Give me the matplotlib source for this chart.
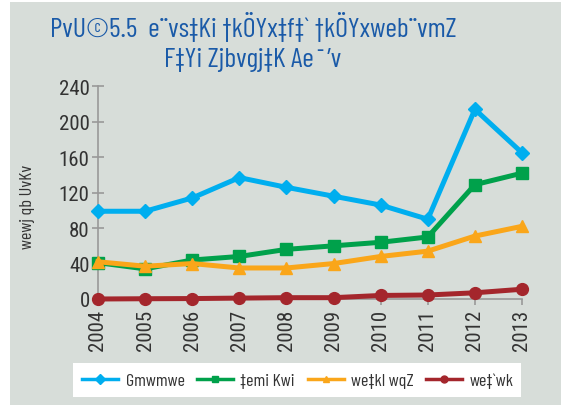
import matplotlib
matplotlib.use("Agg")
import matplotlib.pyplot as plt
from matplotlib.patches import Rectangle

plt.rcParams['font.family'] = ['Roboto Condensed', 'DejaVu Sans']
narrow = ['Barlow Condensed', 'Roboto Condensed', 'DejaVu Sans']

years = [2004, 2005, 2006, 2007, 2008, 2009, 2010, 2011, 2012, 2013]
s_blue = [99, 99, 114, 137, 126, 116, 106, 90, 214, 165]
s_green = [41, 34, 44, 48, 56, 60, 64, 70, 129, 142]
s_orange = [42, 37, 40, 35, 35, 40, 48, 54, 71, 82]
s_red = [0, 0.3, 0.5, 1, 1.5, 1.5, 4, 4.5, 7, 11]
series_names = ["Gmwmwe", "‡emi Kwi", "we‡kl wqZ", "we‡`wk"]
title_text = "PvU©5.5  e¨vs‡Ki †kÖYx‡f‡` †kÖYxweb¨vmZ\nF‡Yi Zjbvgj‡K Ae¯’v"
ylabel_text = "wewj qb UvKv"
yticks = [0, 40, 80, 120, 160, 200, 240]

bg = "#d7ddd9"
fig = plt.figure(figsize=(5.61, 4.06), dpi=100)
fig.patch.set_facecolor("white")
fig.add_artist(Rectangle((10/561, 0), 1 - 10/561, 1 - 3/406, transform=fig.transFigure,
                         facecolor=bg, edgecolor="none", zorder=0))
# legend box
fig.add_artist(Rectangle((73/561, 1 - 398/406), (521-73)/561, 34/406, transform=fig.transFigure,
                         facecolor="white", edgecolor="none", zorder=1))

ax = fig.add_axes([98/561, 1 - 300/406, (522-98)/561, (300-87.3)/406])
ax.set_facecolor("none")

styles = [
    (s_blue, "#00aeef", "D", 7),
    (s_green, "#00a14b", "s", 8.5),
    (s_orange, "#faa61a", "^", 8.5),
    (s_red, "#a4262c", "o", 8.5),
]
for (vals, col, mk, ms), name in zip(styles, series_names):
    ax.plot(years, vals, color=col, lw=3.6, marker=mk, ms=ms, clip_on=False,
            label=name, zorder=3)

ax.set_xlim(2004, 2013)
ax.set_ylim(0, 240)
ax.set_yticks(yticks)
ax.set_xticks(years)
ax.set_xticklabels([str(y) for y in years], rotation=90)
for s in ["top", "right"]:
    ax.spines[s].set_visible(False)
for s in ["left", "bottom"]:
    ax.spines[s].set_color("#999999")
    ax.spines[s].set_linewidth(1.2)
ax.tick_params(axis="y", direction="inout", length=8, color="#999999", width=1.2,
               labelsize=15, labelcolor="#333333", pad=2)
ax.tick_params(axis="x", direction="out", length=4, color="#999999", width=1.2,
               labelsize=15, labelcolor="#333333", pad=3)
ax.set_ylabel(ylabel_text, fontsize=13, color="#333333", family=narrow)
ax.yaxis.set_label_coords(-0.149, 0.437)

fig.text(253/561, 1 - 42/406, title_text, ha="center", va="center", fontsize=20,
         color="#1a5aa8", linespacing=1.3, family=narrow)

leg_handles = []
for (vals, col, mk, ms), name in zip(styles, series_names):
    h, = ax.plot([], [], color=col, lw=2.5, marker=mk, ms=5, label=name)
    leg_handles.append(h)
fig.legend(handles=leg_handles, loc="center", bbox_to_anchor=(298/561, 1 - 381/406),
           ncol=4, frameon=False, handlelength=2.0, columnspacing=0.7,
           handletextpad=0.4, labelcolor="#333333",
           prop={'family': narrow, 'size': 13})

fig.savefig("out.png", dpi=100)
